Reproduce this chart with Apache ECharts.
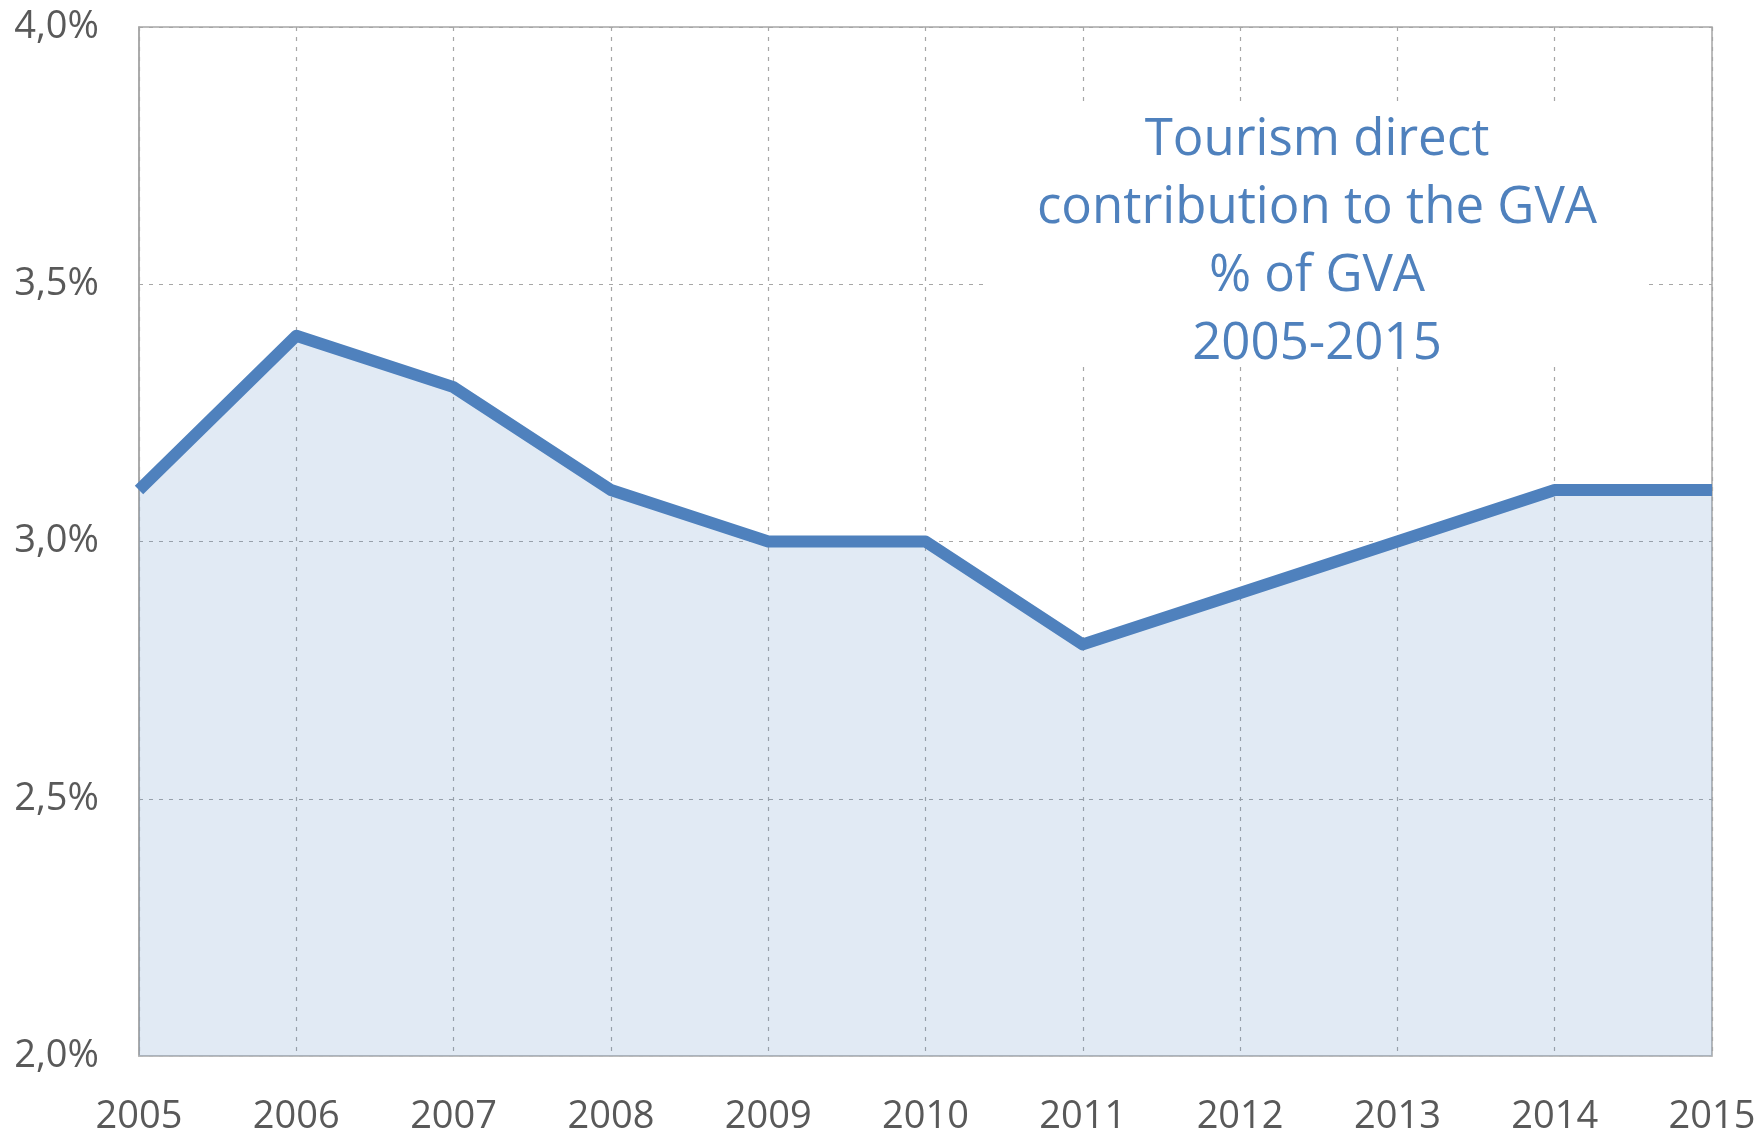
<!DOCTYPE html>
<html>
<head>
<meta charset="utf-8">
<script src="https://cdn.jsdelivr.net/npm/echarts@6/dist/echarts.min.js"></script>
<style>
  html, body { margin: 0; padding: 0; background: #fff; }
  #chart { width: 1760px; height: 1132px; }
</style>
</head>
<body>
<div id="chart"></div>
<script>
const years = ['2005', '2006', '2007', '2008', '2009', '2010', '2011', '2012', '2013', '2014', '2015']
const gvaShare = [3.1, 3.4, 3.3, 3.1, 3.0, 3.0, 2.8, 2.9, 3.0, 3.1, 3.1]
const titleLines = ['Tourism direct', 'contribution to the GVA', '% of GVA', '2005-2015']

const chart = echarts.init(document.getElementById('chart'))

chart.setOption({
  animation: false,
  grid: {
    left: 139,
    right: 48,
    top: 27,
    bottom: 76,
    outerBoundsMode: 'none',
    show: true,
    borderColor: '#a6a6a6',
    borderWidth: 1.5
  },
  xAxis: {
    type: 'category',
    data: years,
    boundaryGap: false,
    axisLine: { lineStyle: { color: '#bfbfbf', width: 1.5 } },
    axisTick: { show: false },
    axisLabel: {
      color: '#595959',
      fontFamily: 'Open Sans',
      fontSize: 38,
      margin: 42,
      showMinLabel: true,
      showMaxLabel: true
    },
    splitLine: {
      show: true,
      lineStyle: { color: '#a6a6a6', type: [4, 6], width: 1.2 }
    }
  },
  yAxis: {
    type: 'value',
    min: 2,
    max: 4,
    interval: 0.5,
    axisLine: { show: true, lineStyle: { color: '#a6a6a6', width: 1.5 } },
    axisTick: { show: false },
    axisLabel: {
      color: '#595959',
      fontFamily: 'Open Sans',
      fontSize: 38,
      margin: 40,
      formatter: v => v.toFixed(1).replace('.', ',') + '%'
    },
    splitLine: {
      lineStyle: { color: '#a6a6a6', type: [4, 6], width: 1.2 }
    }
  },
  series: [
    {
      type: 'line',
      data: gvaShare,
      symbol: 'none',
      lineStyle: { color: '#4f81bd', width: 12, join: 'round' },
      areaStyle: { color: 'rgba(79,129,189,0.24)', origin: 'start' }
    }
  ],
  graphic: [
    {
      type: 'rect',
      shape: { x: 985, y: 104, width: 663, height: 261 },
      style: { fill: '#fff' },
      z: 10
    },
    {
      type: 'text',
      x: 1317,
      y: 106,
      z: 11,
      style: {
        text: titleLines.join('\n'),
        fill: '#4f81bd',
        font: '51px "Open Sans"',
        align: 'center',
        lineHeight: 68
      }
    }
  ]
})
</script>
</body>
</html>
